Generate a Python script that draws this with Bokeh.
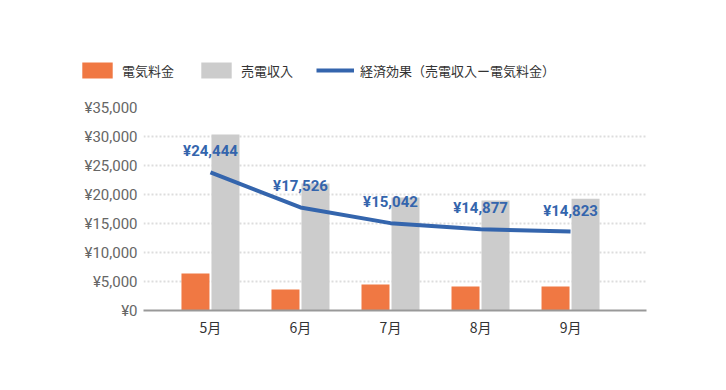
from bokeh.plotting import figure
from bokeh.models import (ColumnDataSource, Range1d, FixedTicker, Legend, LegendItem)
from bokeh.core.properties import value
from bokeh.embed import file_html
from bokeh.resources import INLINE

months = ["5月", "6月", "7月", "8月", "9月"]
electricity_cost = [6380, 3620, 4480, 4140, 4140]
sales_income = [30360, 21900, 19490, 18970, 19270]
effect_line = [23800, 17770, 15060, 14000, 13620]
effect_labels = ["¥24,444", "¥17,526", "¥15,042", "¥14,877", "¥14,823"]
y_ticks = [0, 5000, 10000, 15000, 20000, 25000, 30000, 35000]
y_tick_labels = ["¥0", "¥5,000", "¥10,000", "¥15,000", "¥20,000", "¥25,000", "¥30,000", "¥35,000"]
legend_labels = ["電気料金", "売電収入", "経済効果（売電収入ー電気料金）"]

FONT = "Noto Sans CJK JP"
NUMFONT = "Roboto"
ORANGE = "#F07843"
GRAY = "#CCCCCC"
BLUE = "#3465AD"

idx = list(range(len(months)))
src = ColumnDataSource(dict(
    x=idx,
    x_orange=[i - 0.1667 for i in idx],
    x_gray=[i + 0.1667 for i in idx],
    cost=electricity_cost,
    income=sales_income,
    effect=effect_line,
    label=effect_labels,
))

# ---- legend strip (separate root, its frame covers the whole strip) ----
LEG_H = 88
lg = figure(width=720, height=LEG_H, output_backend="svg", toolbar_location=None,
            x_range=Range1d(-1000, -999), y_range=Range1d(-1000, -999),
            x_axis_location=None, y_axis_location=None,
            min_border=0)
lg.outline_line_color = None
lg.grid.grid_line_color = None
d1 = lg.vbar(x="x_orange", top="cost", width=0.311, source=src, fill_color=ORANGE, line_color=None)
d2 = lg.vbar(x="x_gray", top="income", width=0.311, source=src, fill_color=GRAY, line_color=None)
d3 = lg.line(x="x", y="effect", source=src, line_color=BLUE, line_width=4)
legend = Legend(items=[
    LegendItem(label=legend_labels[0], renderers=[d1]),
    LegendItem(label=legend_labels[1], renderers=[d2]),
    LegendItem(label=legend_labels[2], renderers=[d3]),
], orientation="horizontal", location=(78, LEG_H - 80),
    glyph_width=38, glyph_height=20, label_standoff=6, spacing=23,
    padding=0, margin=0, border_line_color=None, background_fill_alpha=0,
    label_text_font=FONT, label_text_font_size="13px",
    label_text_color="#333333", label_height=20)
lg.add_layout(legend, "center")

# ---- main chart ----
p = figure(width=720, height=384 - LEG_H, output_backend="svg", toolbar_location=None,
           x_range=Range1d(-0.744, 4.844), y_range=Range1d(0, 35000),
           min_border_left=143, min_border_right=74, min_border_top=107 - LEG_H,
           min_border_bottom=74)
p.outline_line_color = None
p.background_fill_color = "white"
p.border_fill_color = "white"

p.vbar(x="x_orange", top="cost", width=0.311, source=src,
       fill_color=ORANGE, line_color=None)
p.vbar(x="x_gray", top="income", width=0.311, source=src,
       fill_color=GRAY, line_color=None)
p.line(x="x", y="effect", source=src, line_color=BLUE, line_width=4,
       line_join="round", line_cap="butt")
p.text(x="x", y="effect", text="label", source=src, y_offset=-21,
       text_align="center", text_baseline="middle", text_color=BLUE,
       text_font=value(NUMFONT), text_font_size="15px", text_font_style="bold")

p.xaxis.ticker = FixedTicker(ticks=idx)
p.xaxis.major_label_overrides = {i: m for i, m in zip(idx, months)}
p.xaxis.axis_line_color = "#999999"
p.xaxis.axis_line_width = 2
p.xaxis.major_tick_line_color = None
p.xaxis.minor_tick_line_color = None
p.xaxis.major_tick_out = 0
p.xaxis.major_label_standoff = 6
p.xaxis.major_label_text_font = FONT
p.xaxis.major_label_text_font_size = "14px"
p.xaxis.major_label_text_color = "#333333"

p.yaxis.ticker = FixedTicker(ticks=y_ticks)
p.yaxis.major_label_overrides = {t: l for t, l in zip(y_ticks, y_tick_labels)}
p.yaxis.axis_line_color = None
p.yaxis.major_tick_line_color = None
p.yaxis.minor_tick_line_color = None
p.yaxis.major_tick_out = 0
p.yaxis.major_label_standoff = 6
p.yaxis.major_label_text_font = NUMFONT
p.yaxis.major_label_text_font_size = "15px"
p.yaxis.major_label_text_color = "#666666"

p.xgrid.grid_line_color = None
p.ygrid.grid_line_color = "#DDDDDD"
p.ygrid.grid_line_width = 2
p.ygrid.grid_line_dash = "2 2"

open("out.html", "w").write(file_html([lg, p], INLINE))
